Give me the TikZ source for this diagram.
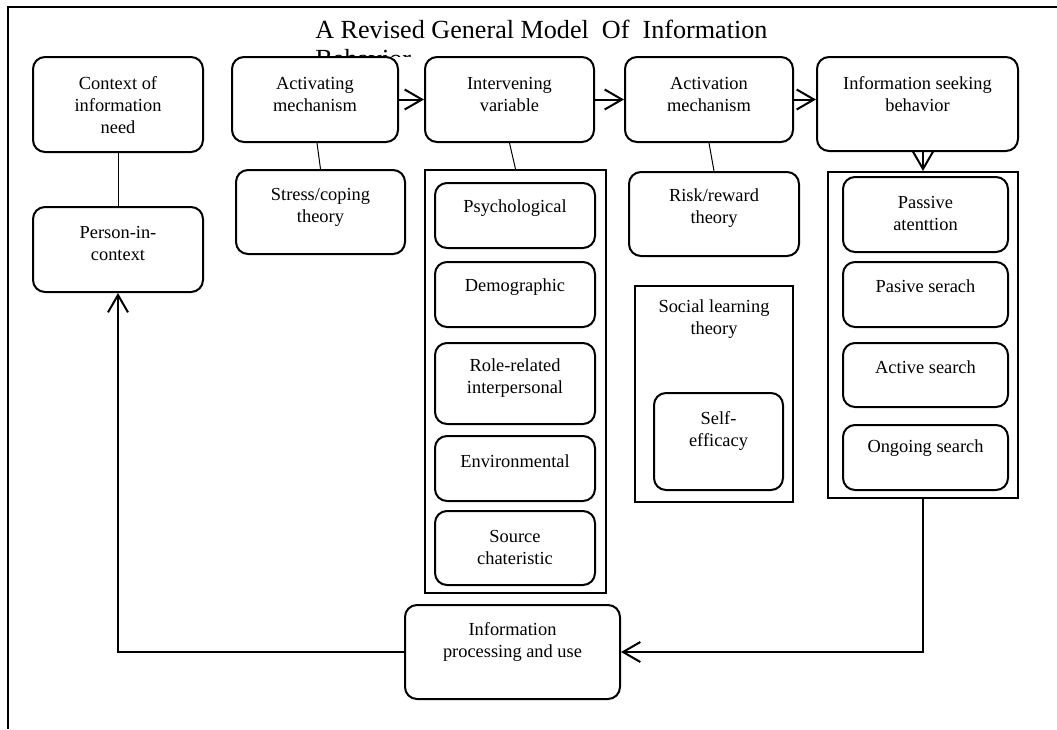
\documentclass[tikz,border=0pt]{standalone}
\usepackage{fontspec}
\setmainfont{Liberation Serif}
\usetikzlibrary{arrows.meta,calc}
\begin{document}
\begin{tikzpicture}[x=0.75pt,y=-0.75pt,
  bx/.style 2 args={minimum width=#1*0.75pt, minimum height=#2*0.75pt},
  rbox/.style={draw, line width=1.5pt, rounded corners=9pt, inner sep=0pt},
  gbox/.style={draw, line width=1.5pt, inner sep=0pt},
  txt/.style={align=center, inner sep=0pt, font=\fontsize{13.8}{16.5}\selectfont},
  ttl/.style={anchor=base west, inner sep=0pt, font=\fontsize{19.6}{24}\selectfont},
  thinline/.style={line width=0.75pt},
  arr/.style={line width=1.5pt, -{Straight Barb[length=13pt,width=15pt]}},
  frameline/.style={line width=1.5pt},
]
\useasboundingbox (0,0) rectangle (1057,729);

% frame
\coordinate (fr1) at (1057,7);
\coordinate (fr2) at (8,7);
\coordinate (fr3) at (8,729);
\draw[frameline] (fr1) -- (fr2) -- (fr3);

% title
\node[ttl] (title) at (315,38) {A Revised General Model\ \ Of\ \ Information};
\begin{scope}
  \clip (300,40) rectangle (420,56);
  \node[ttl] (title2) at (315,67) {Behavior};
\end{scope}

% top row
\node[rbox, bx={170}{95}] (ctx) at (118,104.5) {};
\node[txt] (ctxt) at (118,105) {Context of\\information\\need};
\node[rbox, bx={166}{85}] (act) at (315,99.5) {};
\node[txt] (actt) at (315,94) {Activating\\mechanism};
\node[rbox, bx={169}{85}] (intv) at (509.5,99.5) {};
\node[txt] (intvt) at (509.5,94) {Intervening\\variable};
\node[rbox, bx={168}{85}] (actv) at (709,99.5) {};
\node[txt] (actvt) at (709,94) {Activation\\mechanism};
\node[rbox, bx={201}{94}] (isb) at (917.5,104) {};
\node[txt] (isbt) at (917.5,94) {Information seeking\\behavior};

% left column
\node[rbox, bx={170}{85}] (pic) at (118,249.5) {};
\node[txt] (pict) at (118,243) {Person-in-\\context};

% stress
\node[rbox, bx={169}{84}] (stress) at (320.5,212) {};
\node[txt] (stresst) at (320.5,207) {Stress/coping\\theory};

% intervening group
\node[gbox, bx={181}{423}] (ivgrp) at (515.5,381.5) {};
\node[rbox, bx={160}{65}] (psych) at (515,215.5) {};
\node[txt] (psycht) at (515,208) {Psychological};
\node[rbox, bx={160}{65}] (demo) at (515,294.5) {};
\node[txt] (demot) at (515,287) {Demographic};
\node[rbox, bx={160}{81}] (role) at (515,383.5) {};
\node[txt] (rolet) at (515,378.5) {Role-related\\interpersonal};
\node[rbox, bx={160}{65}] (env) at (515,468.5) {};
\node[txt] (envt) at (515,461) {Environmental};
\node[rbox, bx={160}{74}] (src) at (515,548) {};
\node[txt] (srct) at (515,547) {Source\\chateristic};

% risk / social
\node[rbox, bx={170}{84}] (risk) at (714,214) {};
\node[txt] (riskt) at (714,208.5) {Risk/reward\\theory};
\node[gbox, bx={158}{216}] (slgrp) at (714,394) {};
\node[txt] (slt) at (714,319.5) {Social learning\\theory};
\node[rbox, bx={129}{97}] (self) at (718.5,441.5) {};
\node[txt] (selft) at (718.5,431) {Self-\\efficacy};

% info seeking group
\node[gbox, bx={190}{326}] (isgrp) at (923,335) {};
\node[rbox, bx={165}{75}] (pa) at (925.5,214.5) {};
\node[txt] (pat) at (925.5,213) {Passive\\atenttion};
\node[rbox, bx={165}{65}] (ps) at (925.5,294.5) {};
\node[txt] (pst) at (925.5,286) {Pasive serach};
\node[rbox, bx={165}{64}] (as) at (925.5,375) {};
\node[txt] (ast) at (925.5,367) {Active search};
\node[rbox, bx={165}{65}] (os) at (925.5,457.5) {};
\node[txt] (ost) at (925.5,448) {Ongoing search};

% bottom
\node[rbox, bx={215}{94}] (ipu) at (512.5,652) {};
\node[txt] (iput) at (512.5,641.5) {Information\\processing and use};

% connectors
\draw[arr] (act.east) -- (intv.west);
\draw[arr] (intv.east) -- (actv.west);
\draw[arr] (actv.east) -- (isb.west |- actv.east);
\draw[arr] (isgrp.north |- isb.south) -- (isgrp.north);
\draw[thinline] (ctx.south) -- (pic.north);
\draw[thinline] ([xshift=1.5pt]act.south) -- (stress.north);
\draw[thinline] (intv.south) -- (ivgrp.north);
\draw[thinline] (actv.south) -- (risk.north);
\draw[arr] (isgrp.south) |- (ipu.east);
\draw[arr] (ipu.west) -| (pic.south);
\end{tikzpicture}
\end{document}
